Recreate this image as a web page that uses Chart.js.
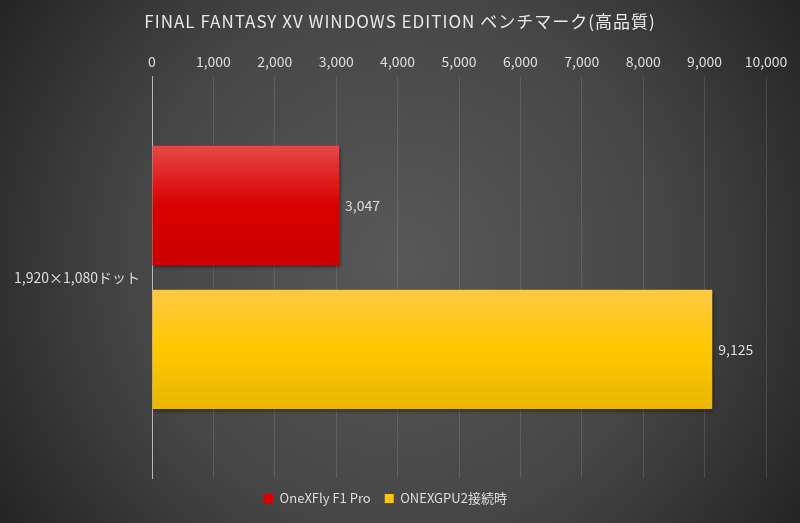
<!DOCTYPE html>
<html>
<head>
<meta charset="utf-8">
<script src="https://cdn.jsdelivr.net/npm/chart.js@4"></script>
<style>
  html, body { margin: 0; padding: 0; background: #2a2a2a; }
  #wrap { width: 800px; height: 523px; }
</style>
</head>
<body>
<div id="wrap"><canvas id="ffxv"></canvas></div>
<script>
// data
const categories = ['1,920×1,080ドット'];
const seriesNames = ['OneXFly F1 Pro', 'ONEXGPU2接続時'];
const onexfly = [3047];
const onexgpu2 = [9125];
const tickMax = 10000;
const tickStep = 1000;
const titleText = 'FINAL FANTASY XV WINDOWS EDITION ベンチマーク(高品質)';

const FONT = "'Noto Sans CJK JP', 'Noto Sans', sans-serif";
const TXT = '#dedede';

// dark radial background
const bgPlugin = {
  id: 'bg',
  beforeDraw(chart) {
    const { ctx, width, height } = chart;
    const g = ctx.createRadialGradient(width / 2, height / 2, 0, width / 2, height / 2, 470);
    g.addColorStop(0, '#585858');
    g.addColorStop(0.55, '#474747');
    g.addColorStop(1, '#252525');
    ctx.save();
    ctx.fillStyle = g;
    ctx.fillRect(0, 0, width, height);
    ctx.restore();
  }
};

// title centred on the whole canvas, slightly spaced out
const titlePlugin = {
  id: 'ffTitle',
  afterDraw(chart) {
    const { ctx, width } = chart;
    ctx.save();
    ctx.font = '17px ' + FONT;
    ctx.fillStyle = '#e8e8e8';
    ctx.letterSpacing = '1px';
    ctx.textAlign = 'center';
    ctx.textBaseline = 'middle';
    ctx.fillText(titleText, width / 2, 22);
    ctx.restore();
  }
};

// vertical gradients on each bar + soft shadow
const barStops = [
  ['#e54848', '#d90000', '#cc0000'],
  ['#ffc844', '#ffc800', '#e8b600']
];
const barLook = {
  id: 'barLook',
  beforeDatasetDraw(chart, args) {
    const { ctx } = chart;
    args.meta.data.forEach(el => {
      const top = el.y - el.height / 2, bot = el.y + el.height / 2;
      const g = ctx.createLinearGradient(0, top, 0, bot);
      const s = barStops[args.index];
      g.addColorStop(0, s[0]);
      g.addColorStop(0.5, s[1]);
      g.addColorStop(1, s[2]);
      el.options.backgroundColor = g;
    });
    ctx.save();
    ctx.shadowColor = 'rgba(0,0,0,0.45)';
    ctx.shadowBlur = 4;
    ctx.shadowOffsetX = 1;
    ctx.shadowOffsetY = 2;
  },
  afterDatasetDraw(chart) {
    chart.ctx.restore();
  }
};

// value labels to the right of bars
const valueLabels = {
  id: 'valueLabels',
  afterDatasetsDraw(chart) {
    const { ctx } = chart;
    ctx.save();
    ctx.font = '14px ' + FONT;
    ctx.fillStyle = TXT;
    ctx.textBaseline = 'middle';
    chart.data.datasets.forEach((ds, i) => {
      chart.getDatasetMeta(i).data.forEach((el, j) => {
        ctx.fillText(ds.data[j].toLocaleString('en-US'), el.x + 6, el.y);
      });
    });
    ctx.restore();
  }
};

new Chart(document.getElementById('ffxv'), {
  type: 'bar',
  data: {
    labels: categories,
    datasets: [
      { label: seriesNames[0], data: onexfly, backgroundColor: '#d90000' },
      { label: seriesNames[1], data: onexgpu2, backgroundColor: '#ffc800' }
    ]
  },
  options: {
    indexAxis: 'y',
    responsive: true,
    maintainAspectRatio: false,
    animation: false,
    categoryPercentage: 0.717,
    barPercentage: 0.83,
    layout: { padding: { left: 5, right: 34, top: 46, bottom: 8 } },
    scales: {
      x: {
        position: 'top',
        min: 0,
        max: tickMax,
        ticks: {
          stepSize: tickStep,
          color: TXT,
          font: { family: FONT, size: 14 },
          padding: 7,
          callback: v => v.toLocaleString('en-US')
        },
        grid: {
          color: ctx => ctx.tick && ctx.tick.value === 0 ? 'rgba(0,0,0,0)' : 'rgba(255,255,255,0.12)',
          drawTicks: false
        },
        border: { display: false }
      },
      y: {
        ticks: {
          color: TXT,
          font: { family: FONT, size: 14 },
          padding: 12
        },
        grid: { display: false, drawTicks: false },
        border: { display: true, color: '#b8b8b8', width: 1 },
        afterFit: s => { s.width = 147; }
      }
    },
    plugins: {
      title: { display: false },
      legend: {
        position: 'bottom',
        labels: {
          color: TXT,
          font: { family: FONT, size: 13 },
          boxWidth: 9,
          boxHeight: 9,
          padding: 14
        }
      },
      tooltip: { enabled: false }
    }
  },
  plugins: [bgPlugin, barLook, valueLabels, titlePlugin]
});
</script>
</body>
</html>
